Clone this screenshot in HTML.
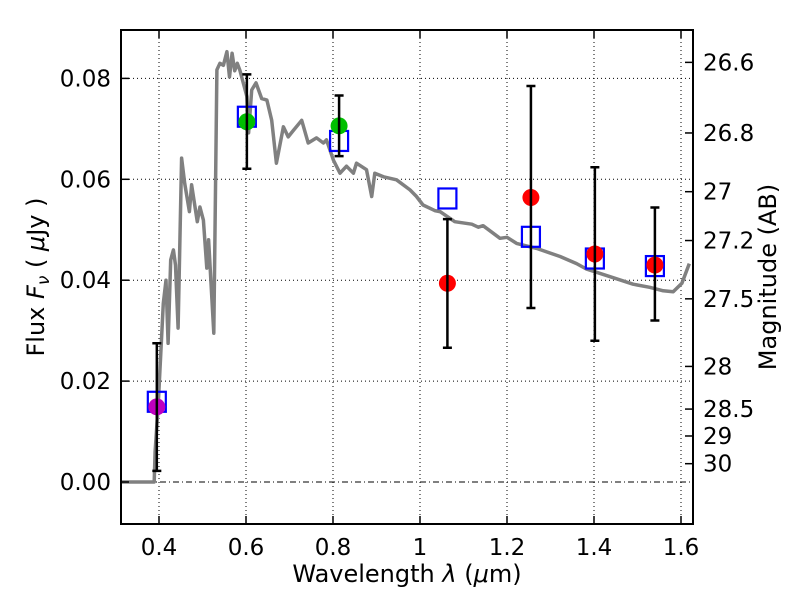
<!DOCTYPE html>
<html><head><meta charset="utf-8">
<style>
body{margin:0;background:#fff;}
svg text{font-family:"DejaVu Sans","Liberation Sans",sans-serif;}
</style></head>
<body>
<svg id="chart" width="800" height="600" xmlns="http://www.w3.org/2000/svg">
<rect width="800" height="600" fill="#fff"/>
<g id="grid"></g>
<g id="spec"></g>
<g id="pts"></g>
<g id="axes"></g>
<text x="407" y="582" text-anchor="middle" font-size="24">Wavelength  <tspan font-style="italic">λ</tspan> (<tspan font-style="italic">μ</tspan>m)</text>
<text transform="translate(44,277) rotate(-90)" text-anchor="middle" font-size="24">Flux  <tspan font-style="italic">F</tspan><tspan font-style="italic" font-size="17" dy="5">ν</tspan><tspan dy="-5">  ( </tspan><tspan font-style="italic">μ</tspan>Jy )</text>
<text transform="translate(776,277) rotate(-90)" text-anchor="middle" font-size="24">Magnitude (AB)</text>
</svg>
<script>
const specX=[0.3126,0.389,0.391,0.398,0.410,0.416,0.421,0.427,0.433,0.438,0.444,0.452,0.459,0.470,0.475,0.488,0.494,0.502,0.510,0.514,0.526,0.533,0.540,0.548,0.556,0.562,0.568,0.574,0.580,0.586,0.602,0.606,0.613,0.623,0.636,0.648,0.659,0.670,0.686,0.697,0.709,0.728,0.743,0.762,0.778,0.785,0.801,0.816,0.831,0.847,0.854,0.877,0.889,0.896,0.916,0.946,0.977,0.992,1.007,1.034,1.046,1.080,1.119,1.134,1.145,1.184,1.2,1.222,1.268,1.322,1.360,1.383,1.437,1.490,1.528,1.559,1.582,1.602,1.619];
const specY=[0,0,0.006,0.0149,0.0354,0.040,0.0275,0.044,0.046,0.043,0.0305,0.0642,0.0592,0.0536,0.0589,0.0516,0.0545,0.0519,0.0424,0.048,0.0295,0.0817,0.083,0.0826,0.0853,0.0803,0.085,0.0815,0.083,0.0816,0.0764,0.0692,0.0777,0.0791,0.0760,0.0757,0.0717,0.0632,0.0704,0.0684,0.0697,0.0717,0.0672,0.0682,0.0672,0.0678,0.0638,0.0612,0.0626,0.0612,0.0632,0.0619,0.0566,0.0612,0.0605,0.0599,0.0579,0.0566,0.0549,0.0538,0.0536,0.0516,0.0511,0.0505,0.0508,0.0483,0.0485,0.0473,0.0463,0.0447,0.0433,0.0422,0.0407,0.0392,0.0386,0.0379,0.0377,0.0394,0.0433];
const bandX=[0.395,0.602,0.814,1.063,1.255,1.402,1.540];
const obsFlux=[0.0149,0.0714,0.0706,0.0394,0.0564,0.0452,0.0430];
const errLo=[0.0022,0.0621,0.0646,0.0266,0.0345,0.0280,0.0320];
const errHi=[0.0275,0.0808,0.0766,0.0521,0.0785,0.0624,0.0544];
const modelFlux=[0.0159,0.0724,0.0676,0.0562,0.0486,0.0443,0.0428];
const obsColor=['#bf00bf','#00bf00','#00bf00','#ff0000','#ff0000','#ff0000','#ff0000'];
const xTicks=[0.4,0.6,0.8,1.0,1.2,1.4,1.6];
const xTickLabels=['0.4','0.6','0.8','1','1.2','1.4','1.6'];
const yTicks=[0,0.02,0.04,0.06,0.08];
const yTickLabels=['0.00','0.02','0.04','0.06','0.08'];
const magTicks=[26.6,26.8,27,27.2,27.5,28,28.5,29,30];
const magTickLabels=['26.6','26.8','27','27.2','27.5','28','28.5','29','30'];

const L=121,R=693,T=30,B=524;
const X=v=>159+(v-0.4)*435;
const Y=v=>482-v*5045;
const NS='http://www.w3.org/2000/svg';
function mk(tag,attrs,parent){const e=document.createElementNS(NS,tag);for(const k in attrs)e.setAttribute(k,attrs[k]);parent.appendChild(e);return e;}
const grid=document.getElementById('grid'),spec=document.getElementById('spec'),pts=document.getElementById('pts'),axes=document.getElementById('axes');

xTicks.forEach((t,i)=>{
  const g=mk('line',{x1:X(t),x2:X(t),y1:T,y2:B,stroke:'#000','stroke-width':1,'stroke-dasharray':'1,3'},grid);
  
  
  const a=mk('line',{x1:X(t),x2:X(t),y1:B,y2:B-8,stroke:'#000','stroke-width':1.5},axes);
  
  
  const b=mk('line',{x1:X(t),x2:X(t),y1:T,y2:T+8,stroke:'#000','stroke-width':1.5},axes);
  
  
  const tx=mk('text',{x:X(t),y:B+31,'text-anchor':'middle','font-size':23},axes);
  tx.textContent=xTickLabels[i];
  
  
});
yTicks.forEach((t,i)=>{
  const g=mk('line',{x1:L,x2:R,y1:Y(t),y2:Y(t),stroke:'#000','stroke-width':1,'stroke-dasharray':t===0?'6,3,1,3':'1,3'},grid);
  
  
  const a=mk('line',{x1:L,x2:L+8,y1:Y(t),y2:Y(t),stroke:'#000','stroke-width':1.5},axes);
  
  
  const tx=mk('text',{x:L-10,y:Y(t)+8,'text-anchor':'end','font-size':23},axes);
  tx.textContent=yTickLabels[i];
  
  
});
magTicks.forEach((m,i)=>{
  const f=Math.pow(10,(23.9-m)/2.5);
  const y=Y(f);
  const a=mk('line',{x1:R,x2:R-8,y1:y,y2:y,stroke:'#000','stroke-width':1.5},axes);
  
  
  const tx=mk('text',{x:R+10,y:y+8,'font-size':23},axes);
  tx.textContent=magTickLabels[i];
  
  
});

const d=specX.map((x,i)=>(i?'L':'M')+X(x).toFixed(1)+','+Y(specY[i]).toFixed(1)).join(' ');
const sp=mk('path',{d:d,fill:'none',stroke:'#808080','stroke-width':3.5,'stroke-linejoin':'round'},spec);



bandX.forEach((x,i)=>{
  const cx=X(x);
  const m=mk('rect',{x:cx-9,y:Y(modelFlux[i])-10,width:18,height:20,fill:'none',stroke:'#0000ff','stroke-width':2.2},pts);
  
  
  const c=mk('circle',{cx:cx,cy:Y(obsFlux[i]),r:8.5,fill:obsColor[i]},pts);
  
  
  const e=mk('path',{d:`M${cx},${Y(errLo[i])}V${Y(errHi[i])}M${cx-4.5},${Y(errLo[i])}h9M${cx-4.5},${Y(errHi[i])}h9`,stroke:'#000','stroke-width':2.5,fill:'none'},pts);
  
  
});

const fr=mk('rect',{x:L,y:T,width:R-L,height:B-T,fill:'none',stroke:'#000','stroke-width':2},axes);


</script>
</body></html>
